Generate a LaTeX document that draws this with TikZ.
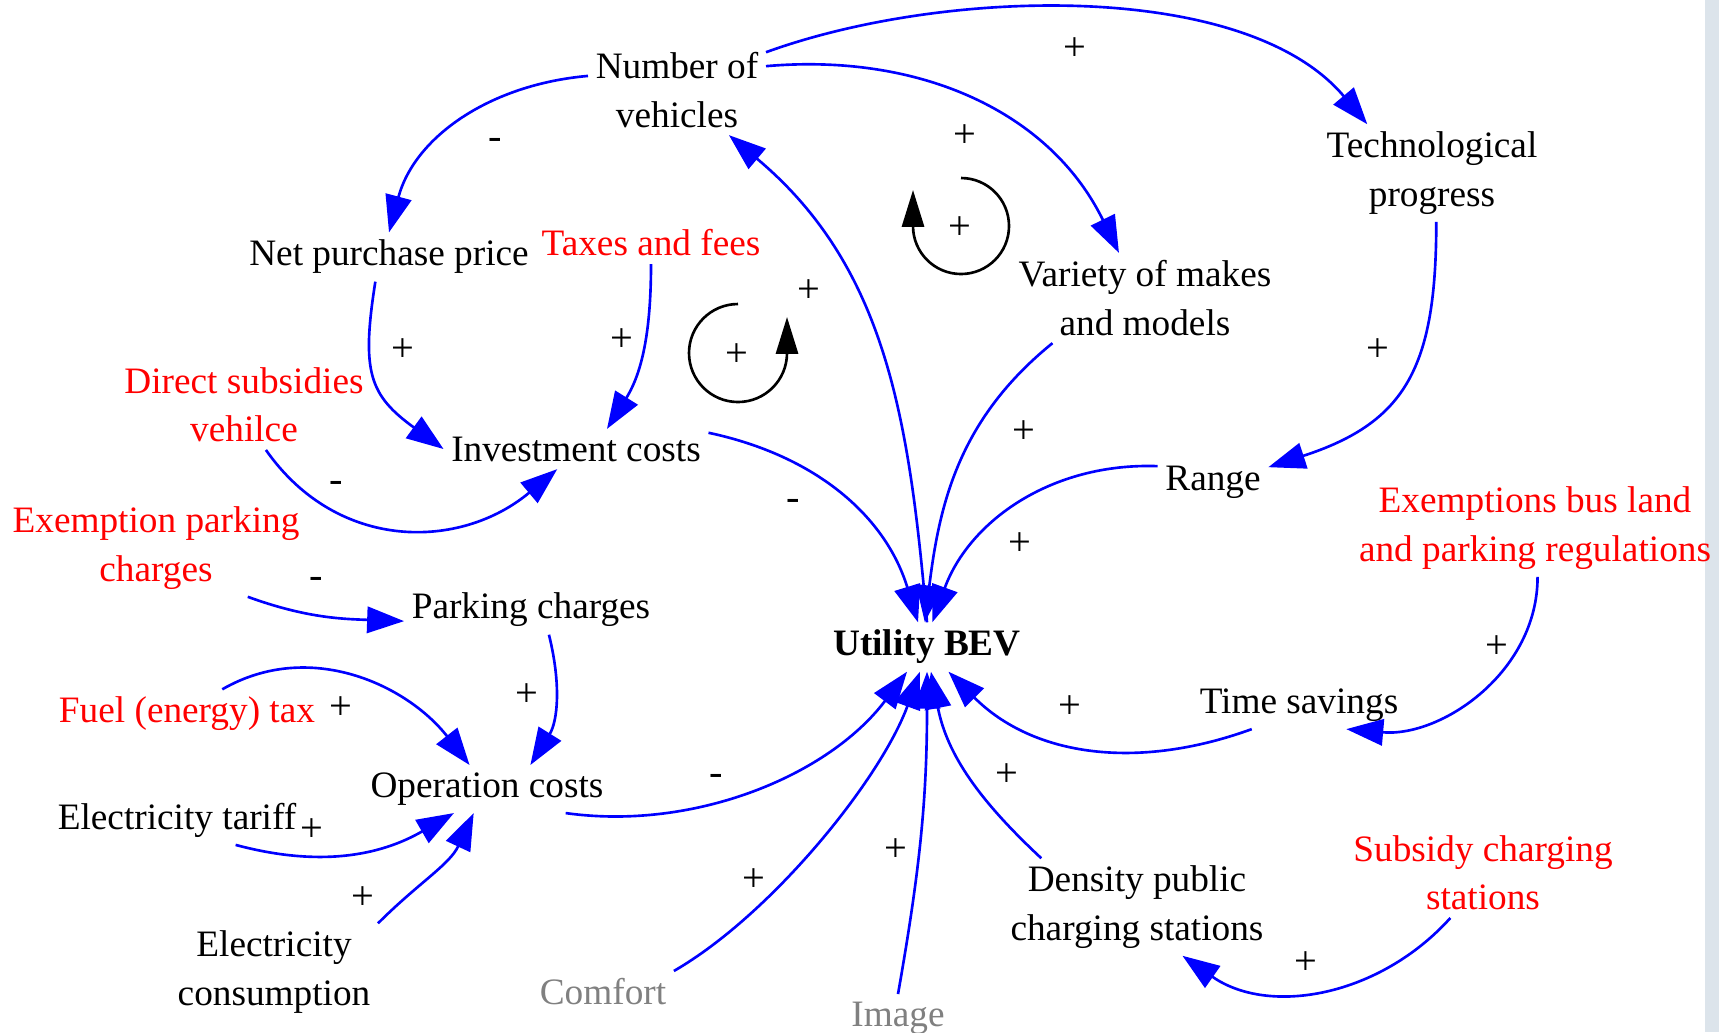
\documentclass[tikz,border=0pt]{standalone}
\usepackage{fontspec}
\setmainfont{Liberation Serif}
\usetikzlibrary{arrows.meta}

\definecolor{linkblue}{RGB}{0,0,255}
\definecolor{policyred}{RGB}{255,0,0}
\definecolor{softgray}{RGB}{128,128,128}
\definecolor{stripgray}{RGB}{220,228,235}

\tikzset{
  var/.style={inner sep=2pt, align=center, font=\fontsize{10.6}{13.7}\selectfont},
  policy/.style={var, text=policyred},
  soft/.style={var, text=softgray},
  sign/.style={inner sep=0pt, font=\fontsize{11.5}{13.7}\selectfont},
  link/.style={draw=linkblue, line width=0.75pt, -{Triangle[length=10.5pt,width=7.5pt]}},
  loopline/.style={line width=0.75pt, -{Triangle[length=10.5pt,width=6.3pt]}}
}

\begin{document}
\begin{tikzpicture}[x=0.01cm, y=0.01cm]
  \useasboundingbox (0,0) rectangle (1719,-1032);
  \fill[stripgray] (1705,0) rectangle (1719,-1032);

  \node (nv)
        [var] at (677,-90)
        {Number of\\vehicles};
  \node (tp)
        [var] at (1432,-173)
        {Technological\\progress};
  \node (npp)
        [var] at (389,-257)
        {Net purchase price};
  \node (tf)
        [policy] at (651,-243)
        {Taxes and fees};
  \node (vm)
        [var] at (1145,-298)
        {Variety of makes\\and models};
  \node (ds)
        [policy] at (244,-405)
        {Direct subsidies\\vehilce};
  \node (ic)
        [var] at (576,-449)
        {Investment costs};
  \node (rg)
        [var] at (1213,-482)
        {Range};
  \node (eb)
        [policy] at (1535,-528)
        {Exemptions bus land\\and parking regulations};
  \node (ep)
        [policy] at (156,-548)
        {Exemption parking\\charges};
  \node (pc)
        [var] at (531,-610)
        {Parking charges};
  \node (ub)
        [var, font=\fontsize{10.6}{13.7}\selectfont\bfseries] at (927,-647)
        {Utility BEV};
  \node (ft)
        [policy] at (187,-714)
        {Fuel (energy) tax};
  \node (ts)
        [var] at (1299,-705)
        {Time savings};
  \node (oc)
        [var] at (487,-789)
        {Operation costs};
  \node (et)
        [var] at (177,-820)
        {Electricity tariff};
  \node (sc)
        [policy] at (1483,-873)
        {Subsidy charging\\stations};
  \node (dp)
        [var] at (1137,-907)
        {Density public\\charging stations};
  \node (ec)
        [var] at (274,-972)
        {Electricity\\consumption};
  \node (cf)
        [soft] at (603,-992)
        {Comfort};
  \node (im)
        [soft] at (898,-1018)
        {Image};

  \draw[link] (nv.171) to[out=185,in=75] (npp.north);
  \draw[link] (nv.23) to[out=20,in=130,looseness=0.8] (tp.143);
  \draw[link] (nv.15) to[out=5,in=116] (vm.120);
  \draw[link] (ub.north) to[out=95,in=-40] (nv.-41);
  \draw[link] (ic.7) to[out=-12,in=107] (ub.110);
  \draw[link] (vm.-154) to[out=219,in=83] (ub.95);
  \draw[link] (rg.164) to[out=178,in=70] (ub.78);
  \draw[link] (tp.-85) to[out=-90,in=18,looseness=1.25] (rg.15);
  \draw[link] (npp.-119) to[out=-99,in=144,looseness=1.3] (ic.west);
  \draw[link] (tf.south) to[out=-90,in=58] (ic.33);
  \draw[link] (ds.-64) to[out=-55,in=-140,looseness=1.1] (ic.-133);
  \draw[link] (ep.-28) to[out=-20,in=178] (pc.185);
  \draw[link] (pc.-54) to[out=-76,in=58] (oc.29);
  \draw[link] (ft.35) to[out=30,in=128] (oc.126);
  \draw[link] (et.-23) to[out=-15,in=-150] (oc.-144);
  \draw[link] (ec.north east) to[out=45,in=-115] (oc.-119);
  \draw[link] (oc.-17) to[out=-8,in=-127,looseness=0.9] (ub.-129);
  \draw[link] (cf.north east) to[out=30,in=-110,looseness=0.75] (ub.-106);
  \draw[link] (im.north) to[out=80,in=-90] (ub.south);
  \draw[link] (dp.153) to[out=137,in=-79] (ub.-81);
  \draw[link] (ts.-153) to[out=200,in=-45] (ub.-49);
  \draw[link] (eb.-87) to[out=-90,in=-5] (ts.-27);
  \draw[link] (sc.-126) to[out=-132,in=-35] (dp.-47);

  \draw[loopline] (738,-304) arc[start angle=90,end angle=360,radius=49] -- ++(0,36);
  \draw[loopline] (961,-178) arc[start angle=90,end angle=-180,radius=48] -- ++(0,36);

  \node (s1) [sign] at (495,-144) {-};
  \node (s2) [sign] at (1075,-49) {+};
  \node (s3) [sign] at (965,-136) {+};
  \node (s4) [sign] at (809,-291) {+};
  \node (s5) [sign] at (793,-505) {-};
  \node (s6) [sign] at (1024,-432) {+};
  \node (s7) [sign] at (1020,-544) {+};
  \node (s8) [sign] at (1378,-350) {+};
  \node (s9) [sign] at (403,-350) {+};
  \node (s10) [sign] at (622,-340) {+};
  \node (s11) [sign] at (336,-487) {-};
  \node (s12) [sign] at (316,-583) {-};
  \node (s13) [sign] at (527,-695) {+};
  \node (s14) [sign] at (341,-708) {+};
  \node (s15) [sign] at (312,-830) {+};
  \node (s16) [sign] at (363,-898) {+};
  \node (s17) [sign] at (716,-780) {-};
  \node (s18) [sign] at (754,-880) {+};
  \node (s19) [sign] at (896,-850) {+};
  \node (s20) [sign] at (1007,-775) {+};
  \node (s21) [sign] at (1070,-707) {+};
  \node (s22) [sign] at (1497,-647) {+};
  \node (s23) [sign] at (1306,-963) {+};
  \node (r1) [sign] at (737,-355) {+};
  \node (r2) [sign] at (960,-228) {+};
\end{tikzpicture}
\end{document}
